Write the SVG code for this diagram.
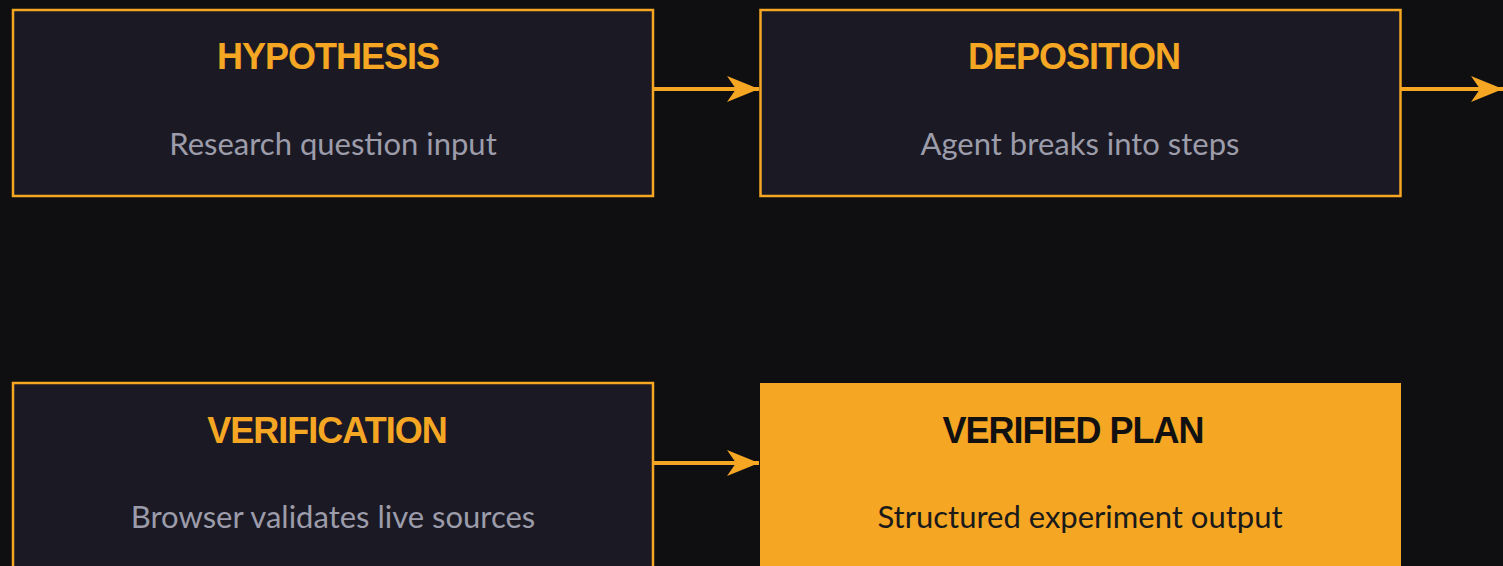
<svg xmlns="http://www.w3.org/2000/svg" width="1503" height="566" viewBox="0 0 1503 566">
<defs>
<style>
.box{fill:#1b1a24;stroke:#f5a623;stroke-width:2.5}
.final{fill:#f5a623}
.t{font-family:"Liberation Sans",Arial,sans-serif;font-weight:bold;font-size:36px;fill:#f5a623;text-anchor:middle;letter-spacing:-1px}
.s{font-family:"Lato","Open Sans",sans-serif;font-size:31px;fill:#9c9caa;text-anchor:middle}
.tf{fill:#111111}
.sf{fill:#1a1a1a}
.c{stroke:#f5a623;stroke-width:4;fill:none}
</style>
<marker id="ah" viewBox="0 0 32 26" refX="32" refY="13" markerWidth="32" markerHeight="26" markerUnits="userSpaceOnUse" orient="auto">
<path d="M0,0 L32,13 L0,26 L9,13 Z" fill="#f5a623"/>
</marker>
</defs>
<rect width="1503" height="566" fill="#0f0f11"/>
<g id="hypothesis">
<rect class="box" x="13" y="10" width="640" height="186"/>
<text class="t" x="328" y="69">HYPOTHESIS</text>
<text class="s" x="333" y="155">Research question input</text>
</g>
<g id="deposition">
<rect class="box" x="760.5" y="10" width="640" height="186"/>
<text class="t" x="1074" y="69">DEPOSITION</text>
<text class="s" x="1080" y="155">Agent breaks into steps</text>
</g>
<g id="verification">
<rect class="box" x="13" y="383" width="640" height="200"/>
<text class="t" x="327" y="443">VERIFICATION</text>
<text class="s" x="333" y="528">Browser validates live sources</text>
</g>
<g id="verified-plan">
<rect class="final" x="760" y="383" width="641" height="200"/>
<text class="t tf" x="1073" y="443">VERIFIED PLAN</text>
<text class="s sf" x="1080" y="528">Structured experiment output</text>
</g>
<g id="connectors">
<line class="c" x1="654" y1="89" x2="759" y2="89" marker-end="url(#ah)"/>
<line class="c" x1="1401" y1="89" x2="1503" y2="89" marker-end="url(#ah)"/>
<line class="c" x1="654" y1="463" x2="759" y2="463" marker-end="url(#ah)"/>
</g>
</svg>
